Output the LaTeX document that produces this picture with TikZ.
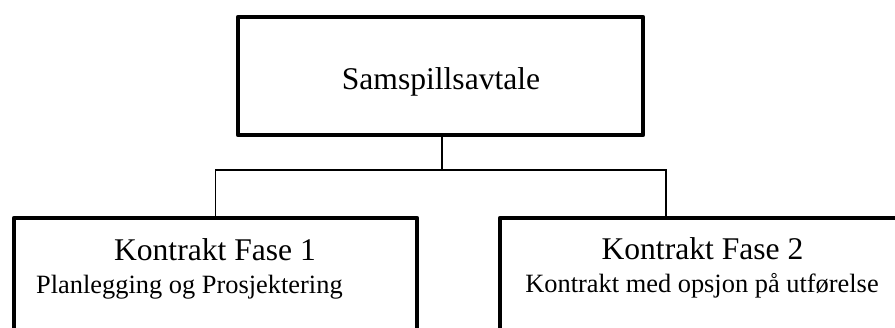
\documentclass[tikz,border=0pt]{standalone}
\usepackage{fontspec}
\setmainfont{Liberation Serif}
\begin{document}
\begin{tikzpicture}[x=1bp,y=-1bp,
  boxstyle/.style={draw,line width=4.6bp,line join=round,inner sep=0pt,outer sep=0pt,fill=white},
  link/.style={draw,line width=1.3bp},
  titletext/.style={font=\fontsize{31.6bp}{36bp}\selectfont,inner sep=0pt},
  subtext/.style={font=\fontsize{26.4bp}{30bp}\selectfont,inner sep=0pt}]
\useasboundingbox (0,0) rectangle (895,327);
\clip (0,0) rectangle (895,327);
\fill[white] (0,0) rectangle (895,327);
% boxes
\node[boxstyle,minimum width=405bp,minimum height=118bp] (top) at (440.5,76) {};
\node[boxstyle,minimum width=403bp,minimum height=160bp] (left) at (215.5,298) {};
\node[boxstyle,minimum width=403bp,minimum height=160bp] (right) at (701.5,298) {};
% texts
\node[titletext,anchor=base] (ttop) at (441,89) {Samspillsavtale};
\node[titletext,anchor=base] (tleft) at (215,260) {Kontrakt Fase 1};
\node[subtext,anchor=base west] (sleft) at (36,293) {Planlegging og Prosjektering};
\node[titletext,anchor=base] (tright) at (702.5,259) {Kontrakt Fase 2};
\node[subtext,anchor=base] (sright) at (702,292) {Kontrakt med opsjon på utførelse};
% connectors
\coordinate (hub) at (442,170);
\coordinate (rj) at (666,170);
\draw[link] ([yshift=-2.3bp]top.south -| hub) -- (hub);
\draw[link] ([yshift=2.3bp]left.north) |- (rj) -- ([yshift=2.3bp]rj |- right.north);
\end{tikzpicture}
\end{document}
